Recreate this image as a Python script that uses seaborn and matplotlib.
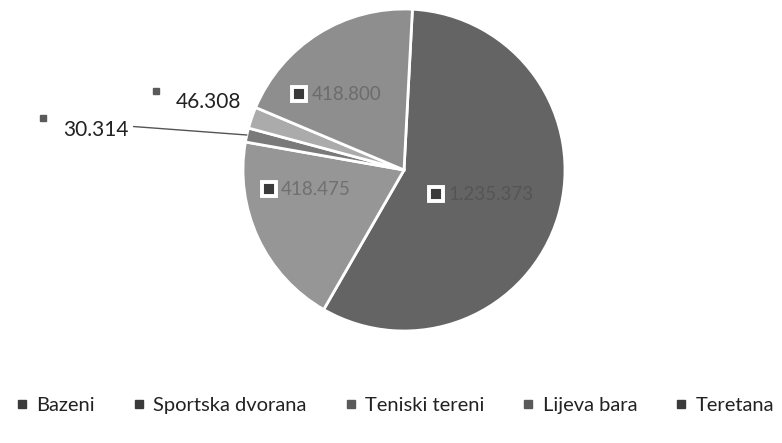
import matplotlib.pyplot as plt
import numpy as np
import seaborn as sns
from matplotlib.lines import Line2D

categories = ["Bazeni", "Sportska dvorana", "Teniski tereni", "Lijeva bara", "Teretana"]
values = [1235373, 418475, 30314, 46308, 418800]
value_labels = ["1.235.373", "418.475", "30.314", "46.308", "418.800"]

slice_colors = ["#646464", "#969696", "#7a7a7a", "#ababab", "#8e8e8e"]
text_colors = ["#555555", "#707070", "#222222", "#222222", "#6c6c6c"]
marker_colors = ["#3a3a3a", "#3a3a3a", "#5a5a5a", "#5a5a5a", "#3a3a3a"]

sns.set_theme(style="white")
plt.rcParams['font.family'] = ['Lato', 'DejaVu Sans']

fig = plt.figure(figsize=(7.82, 4.43), dpi=100)
ax = fig.add_axes([0, 0, 1, 1])

wedges, _ = ax.pie(values, colors=slice_colors, startangle=87, counterclock=False,
                   wedgeprops=dict(edgecolor="white", linewidth=2))

# 1 data unit = 161 px, pie centre at (404, 170) px from top-left
ax.set_xlim(-404 / 161, (782 - 404) / 161)
ax.set_ylim(-(443 - 170) / 161, 170 / 161)
ax.set_aspect("equal", adjustable="datalim")
ax.axis("off")

# labels inside the big slices (box marker + value)
inside = {0: (0.2, -0.15), 1: (-0.84, -0.12), 4: (-0.65, 0.47)}
for i, (x, y) in inside.items():
    ax.plot(x, y, marker="s", markersize=10, markerfacecolor=marker_colors[i],
            markeredgecolor="white", markeredgewidth=2.8)
    ax.text(x + 0.075, y, value_labels[i], fontsize=13.5, color=text_colors[i],
            va="center", ha="left")

# labels outside for the two small slices
outside = {2: (-2.12, 0.25), 3: (-1.42, 0.42)}
for i, (x, y) in outside.items():
    ax.plot(x - 0.12, y + 0.07, marker="s", markersize=5, color=marker_colors[i])
    ax.text(x, y, value_labels[i], fontsize=15, color="#222222", va="center", ha="left")

# leader line for Teniski tereni
w = wedges[2]
mid = np.deg2rad((w.theta1 + w.theta2) / 2)
ax.plot([-1.68, np.cos(mid)], [0.27, np.sin(mid)], color="#555555", linewidth=1)

handles = [Line2D([], [], marker="s", linestyle="", markersize=6, color=c) for c in marker_colors]
fig.legend(handles, categories, loc="center", bbox_to_anchor=(0.505, 0.085), ncol=5,
           frameon=False, fontsize=14.5, handlelength=0.6, handletextpad=0.4,
           columnspacing=1.9, labelcolor="#222222")

fig.savefig("out.png", dpi=100, facecolor="white")
